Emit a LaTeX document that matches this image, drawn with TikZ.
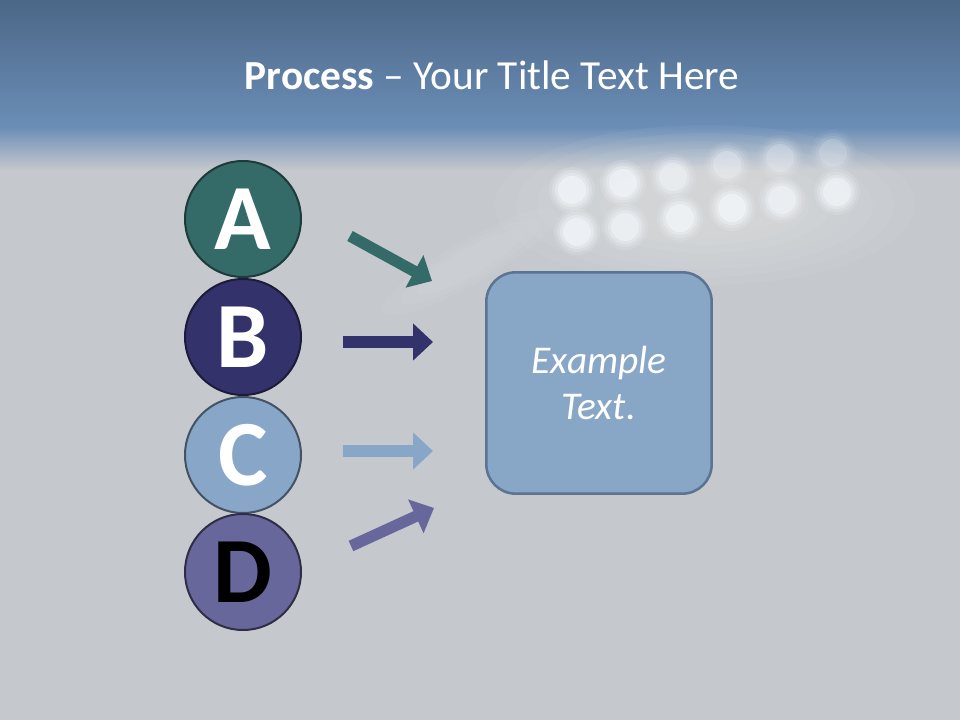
\documentclass[tikz,border=0pt]{standalone}
\usepackage{fontspec}
\setmainfont{Carlito}
\usetikzlibrary{arrows.meta}

\definecolor{bandtop}{HTML}{4C6787}
\definecolor{bandlow}{HTML}{6B8EB7}
\definecolor{slidegray}{HTML}{C5C8CC}
\definecolor{tealA}{HTML}{346B69}
\definecolor{navyB}{HTML}{33326A}
\definecolor{skyC}{HTML}{87A6C8}
\definecolor{plumD}{HTML}{68679C}
\definecolor{boxfill}{HTML}{88A6C6}
\definecolor{boxline}{HTML}{5B7492}
\definecolor{lamp}{HTML}{F4F8FC}

\tikzset{
	letter/.style={circle, draw, line width=1.5pt, minimum size=87pt, inner sep=0pt,
		font=\fontsize{70}{70}\selectfont\bfseries},
	pointer/.style={line width=8.5pt, -{Triangle[length=15pt,width=27pt]}},
	haze/.style={fill=white, opacity=0.045}
}

\begin{document}
\begin{tikzpicture}[x=0.75pt, y=-0.75pt]
		%%%%% START %%%%%
		
		\useasboundingbox (0, 0) rectangle (960, 720);
		\fill[slidegray] (0, 0) rectangle (960, 720);
		\shade[top color=bandtop, bottom color=bandlow] (0, 0) rectangle (960, 128);
		\shade[top color=bandlow, bottom color=slidegray] (0, 127) rectangle (960, 170);
		
		% lights
		\foreach \s in {1.0, 0.9, ..., 0.3}
			\fill[haze] (705, 205) ellipse ({210*\s} and {80*\s});
		\foreach \s in {1.0, 0.8, 0.6}
			\fill[haze, rotate around={30:(470,262)}] (470, 262) ellipse ({100*\s} and {22*\s});
		\foreach \px/\py/\k in {572/190/1.3, 623/183/1.2, 673/177/0.9, 727/165/0.6, 780/158/0.5, 833/153/0.4,
			577/232/1.3, 625/227/1.1, 680/218/1.2, 732/208/1.3, 782/200/1.1, 837/192/1.2}
			\foreach \r/\o in {23/0.12, 20/0.18, 17/0.28, 14/0.45}
				\fill[lamp, opacity={min(1,\o*\k)}] (\px, \py) circle (\r);
		
		% title
		\node[text=white, font=\fontsize{31}{31}\selectfont] (title) at (492, 75)
			{\textbf{Process} -- Your Title Text Here};
		
		% letters
		\node[letter, fill=tealA, draw=tealA!55!black, text=white] (a) at (243, 219) {A};
		\node[letter, fill=navyB, draw=navyB!55!black, text=white] (b) at (243, 337) {B};
		\node[letter, fill=skyC, draw=skyC!50!black, text=white] (c) at (243, 455) {C};
		\node[letter, fill=plumD, draw=plumD!45!black, text=black] (d) at (243, 572) {D};
		
		% arrows
		\coordinate (a1) at (350, 236);
		\coordinate (a2) at (432, 281);
		\coordinate (b1) at (343, 342);
		\coordinate (b2) at (433, 342);
		\coordinate (c1) at (343, 451);
		\coordinate (c2) at (433, 451);
		\coordinate (d1) at (351, 546);
		\coordinate (d2) at (434, 508);
		\draw[pointer, color=tealA] (a1) -- (a2);
		\draw[pointer, color=navyB] (b1) -- (b2);
		\draw[pointer, color=skyC] (c1) -- (c2);
		\draw[pointer, color=plumD] (d1) -- (d2);
		
		% box
		\node[draw=boxline, fill=boxfill, line width=1.9pt, rounded corners=22pt,
			minimum width=169pt, minimum height=166pt, align=center, text=white,
			font=\fontsize{29.5}{35}\selectfont\itshape] (txt) at (599, 383) {Example\\Text.};
		
		%%%%% END %%%%%
	\end{tikzpicture}
\end{document}
